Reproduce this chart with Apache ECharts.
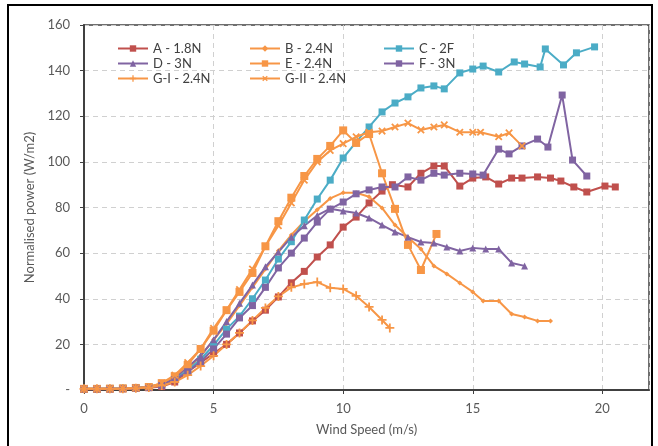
<!DOCTYPE html>
<html>
<head>
<meta charset="utf-8">
<script src="https://cdn.jsdelivr.net/npm/echarts@6/dist/echarts.min.js"></script>
<style>
  html, body { margin: 0; padding: 0; background: #fff; }
  #chart { width: 658px; height: 446px; }
</style>
</head>
<body>
<div id="chart"></div>
<script>
var xTicks = [0, 5, 10, 15, 20];

var aX = [0, 0.5, 1, 1.5, 2, 2.5, 3, 3.5, 4, 4.5, 5, 5.5, 6, 6.5, 7, 7.5, 8, 8.5, 9, 9.5, 10, 10.5, 11, 11.5, 11.9, 12.5, 13, 13.5, 13.9, 14.5, 15, 15.5, 16, 16.5, 16.9, 17.5, 18, 18.4, 18.9, 19.4, 20.1, 20.5];
var aY = [0.3, 0.3, 0.4, 0.5, 0.7, 1, 1.5, 3.5, 8, 12, 16, 20, 25, 30.3, 35, 40.8, 47, 52, 58.3, 63.6, 71.4, 75.8, 82, 87.2, 90, 89, 95, 98.2, 98.2, 89.4, 92.9, 93.4, 90.3, 92.9, 92.9, 93.4, 92.9, 91.6, 89, 86.8, 89.4, 89];

var bX = [0, 0.5, 1, 1.5, 2, 2.5, 3, 3.5, 4, 4.5, 5, 5.5, 6, 6.5, 7, 7.5, 8, 8.5, 9, 9.5, 10, 10.5, 11, 11.5, 12, 12.5, 13, 13.5, 14, 14.5, 15, 15.4, 16, 16.5, 17, 17.5, 18];
var bY = [0.5, 0.5, 0.5, 0.6, 0.8, 1.2, 2.5, 5, 9, 15, 22, 29, 37, 45, 53, 61, 68, 74, 79, 84, 86.5, 86.5, 84.7, 79.8, 72.3, 67, 61.8, 54.4, 50.9, 46.9, 43, 39, 39, 33.3, 32, 30.3, 30.3];

var cX = [0, 0.5, 1, 1.5, 2, 2.5, 3, 3.5, 4, 4.5, 5, 5.5, 6, 6.5, 7, 7.5, 8, 8.5, 9, 9.5, 10, 10.5, 11, 11.5, 12, 12.5, 13, 13.5, 13.9, 14.5, 15, 15.4, 16, 16.6, 17, 17.6, 17.8, 18.5, 19, 19.7];
var cY = [0.5, 0.6, 0.7, 0.8, 1, 1.5, 2.5, 5, 8.5, 13.5, 19.7, 26.7, 32.4, 40, 48.2, 57.4, 65, 74.5, 83.7, 92, 101.7, 108.7, 115.3, 121.9, 125.8, 128.5, 132.4, 133.3, 132, 139, 140.7, 142, 139.4, 143.8, 142.9, 141.6, 149.5, 142.5, 147.8, 150.4];

var dX = [0, 0.5, 1, 1.5, 2, 2.5, 3, 3.5, 4, 4.5, 5, 5.5, 6, 6.5, 7, 7.5, 8, 8.5, 9, 9.5, 10, 10.5, 11, 11.5, 12, 12.5, 13, 13.5, 14, 14.5, 15, 15.5, 16, 16.5, 17];
var dY = [0.5, 0.5, 0.6, 0.7, 0.9, 1.3, 2.5, 5.5, 10, 15, 22, 30, 38, 46, 54, 60.5, 67, 72, 76.5, 79.5, 78.5, 77.6, 75.4, 72.3, 69.3, 67, 64.9, 64.4, 62.7, 60.9, 62.3, 61.8, 61.8, 55.7, 54.4];

var eX = [0, 0.5, 1, 1.5, 2, 2.5, 3, 3.5, 4, 4.5, 5, 5.5, 6, 6.5, 7, 7.5, 8, 8.5, 9, 9.5, 10, 10.5, 11, 11.5, 12, 12.5, 13, 13.6];
var eY = [0.5, 0.5, 0.6, 0.7, 0.9, 1.3, 3, 6, 11, 18, 26, 35, 43, 51.3, 63, 74, 84.3, 93.8, 101.3, 107, 113.8, 108.3, 112.2, 95, 79.4, 63.6, 52.6, 68.4];

var fX = [0, 0.5, 1, 1.5, 2, 2.5, 3, 3.5, 4, 4.5, 5, 5.5, 6, 6.5, 7, 7.5, 8, 8.5, 9, 9.5, 10, 10.5, 11, 11.5, 12, 12.5, 13, 13.5, 13.9, 14.5, 15, 15.4, 16, 16.4, 16.9, 17.5, 17.9, 18.45, 18.85, 19.4];
var fY = [0.4, 0.4, 0.5, 0.6, 0.8, 1.1, 2, 4.5, 8, 12.5, 18, 24.5, 31.6, 37, 45, 53.5, 60, 66.6, 73.6, 79.3, 82.4, 86, 87.7, 89, 89, 93.4, 92, 95, 94.2, 95, 94.7, 94.2, 105.6, 103.5, 107, 110, 106.5, 129.3, 100.8, 93.8];

var g1X = [0, 0.5, 1, 1.5, 2, 2.5, 3, 3.5, 4, 4.5, 5, 5.5, 6, 6.5, 7, 7.5, 8, 8.5, 9, 9.5, 10, 10.5, 11, 11.5, 11.8];
var g1Y = [0.5, 0.5, 0.5, 0.6, 0.8, 1.1, 2, 3.5, 6.5, 10.5, 15, 20, 25, 30.5, 36, 41, 45, 46.5, 47.3, 44.8, 44.3, 41.3, 36.4, 30.7, 27.2];

var g2X = [0, 0.5, 1, 1.5, 2, 2.5, 3, 3.5, 4, 4.5, 5, 5.5, 6, 6.5, 7, 7.5, 8, 8.5, 9, 9.5, 10, 10.5, 11, 11.5, 12, 12.5, 13, 13.5, 13.9, 14.5, 15, 15.3, 16, 16.4, 16.9];
var g2Y = [0.5, 0.5, 0.6, 0.7, 0.9, 1.3, 3, 6.5, 12, 18, 27, 35, 44, 53, 63, 72, 82, 92, 100, 105, 108, 111, 113, 113.5, 115.3, 117, 114, 115.3, 116.2, 113, 113, 113, 111, 112.7, 107];

function zip(xs, ys) {
    return xs.map(function (x, i) { return [x, ys[i]]; });
}

var red = '#C0504D';
var orange = '#F79646';
var teal = '#4BACC6';
var purple = '#8064A2';
var plus = 'path://M4,0H6V4H10V6H6V10H4V6H0V4H4Z';
var font = 'Lato';

function line(name, data, color, symbol, size, rotate) {
    return {
        name: name,
        type: 'line',
        data: data,
        symbol: symbol,
        symbolSize: size,
        symbolRotate: rotate || 0,
        showAllSymbol: true,
        lineStyle: {color: color, width: 2},
        itemStyle: {color: color},
        emphasis: {disabled: true},
        animation: false
    };
}

var legendBase = {
    orient: 'vertical',
    itemWidth: 30,
    itemHeight: 8,
    itemGap: 2,
    textStyle: {fontFamily: font, fontSize: 13, color: '#404040'}
};

var option = {
    grid: {left: 84, right: 9, top: 25, bottom: 56, show: true, borderColor: '#404040', borderWidth: 1.5},
    legend: [
        Object.assign({left: 112, top: 37, data: ['A - 1.8N', 'D - 3N', 'G-I - 2.4N']}, legendBase),
        Object.assign({left: 244, top: 37, data: ['B - 2.4N', 'E - 2.4N', 'G-II - 2.4N']}, legendBase),
        Object.assign({left: 378, top: 37, data: ['C - 2F', 'F - 3N']}, legendBase)
    ],
    xAxis: {
        type: 'value',
        min: 0,
        max: 21.8,
        interval: 5,
        name: 'Wind Speed (m/s)',
        nameLocation: 'middle',
        nameGap: 33,
        nameTextStyle: {fontFamily: font, fontSize: 13, color: '#595959'},
        axisLine: {lineStyle: {color: '#404040', width: 2}},
        axisTick: {show: true, inside: false, length: 4, lineStyle: {color: '#404040'}},
        axisLabel: {
            fontFamily: font, fontSize: 13, color: '#595959', margin: 12,
            showMaxLabel: false,
            formatter: function (v) { return xTicks.indexOf(v) >= 0 ? String(v) : ''; }
        },
        splitLine: {show: true, lineStyle: {color: '#D0D0D0', type: [5, 4]}}
    },
    yAxis: {
        type: 'value',
        min: 0,
        max: 160,
        interval: 20,
        name: 'Normalised power (W/m2)',
        nameLocation: 'middle',
        nameGap: 45,
        nameTextStyle: {fontFamily: font, fontSize: 13, color: '#595959'},
        axisLine: {show: true, lineStyle: {color: '#404040', width: 2}},
        axisTick: {show: true, length: 4, lineStyle: {color: '#404040'}},
        axisLabel: {
            fontFamily: font, fontSize: 13, color: '#595959', margin: 14,
            formatter: function (v) { return v === 0 ? '-' : String(v); }
        },
        splitLine: {show: true, lineStyle: {color: '#D0D0D0', type: [5, 4]}}
    },
    graphic: [{
        type: 'rect',
        shape: {x: 8, y: 5, width: 644, height: 470},
        style: {fill: 'none', stroke: '#000', lineWidth: 2},
        silent: true
    }],
    series: [
        line('A - 1.8N', zip(aX, aY), red, 'rect', 7),
        line('B - 2.4N', zip(bX, bY), orange, 'diamond', 5),
        line('C - 2F', zip(cX, cY), teal, 'rect', 7),
        line('D - 3N', zip(dX, dY), purple, 'triangle', 7),
        line('E - 2.4N', zip(eX, eY), orange, 'rect', 8),
        line('F - 3N', zip(fX, fY), purple, 'rect', 7),
        line('G-I - 2.4N', zip(g1X, g1Y), orange, plus, 9),
        line('G-II - 2.4N', zip(g2X, g2Y), orange, plus, 9, 45)
    ]
};

var chart = echarts.init(document.getElementById('chart'));
chart.setOption(option);
</script>
</body>
</html>
